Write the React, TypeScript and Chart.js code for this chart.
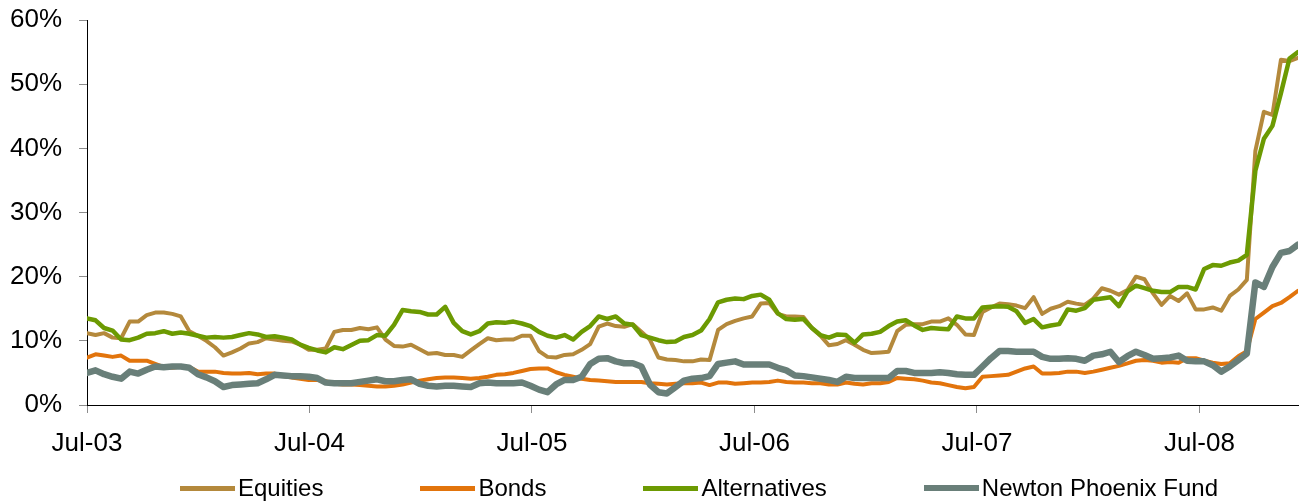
import React, { useEffect, useRef } from "react";
import { Chart, registerables } from "chart.js";

Chart.register(...registerables);

// Fortnightly observations starting Jul-03
const tickLabels = ["Jul-03", "Jul-04", "Jul-05", "Jul-06", "Jul-07", "Jul-08"];
const seriesNames = ["Equities", "Bonds", "Alternatives", "Newton Phoenix Fund"];

const equities = [
  11.2, 10.9, 11.2, 10.5, 10.4, 13.0, 13.0, 14.0, 14.4, 14.4, 14.2, 13.8, 11.5, 10.8, 10.0, 9.0, 7.7, 8.2, 8.8, 9.6, 9.8, 10.4, 10.2, 10.0,
  9.9, 9.4, 8.6, 8.6, 8.8, 11.4, 11.7, 11.7, 12.0, 11.8, 12.1, 10.2, 9.2, 9.1, 9.4, 8.7, 8.0, 8.1, 7.8, 7.8, 7.5, 8.5, 9.5,
  10.4, 10.1, 10.2, 10.2, 10.8, 10.8, 8.4, 7.5, 7.4, 7.8, 7.9, 8.6, 9.5, 12.2, 12.7, 12.3, 12.2, 12.6, 11.4, 10.2, 7.4, 7.1, 7.0, 6.8,
  6.8, 7.1, 7.0, 11.7, 12.6, 13.1, 13.5, 13.8, 15.8, 15.9, 14.2, 13.8, 13.8, 13.7, 12.0, 10.8, 9.3, 9.5, 10.1, 9.4, 8.6, 8.1, 8.2,
  8.3, 11.5, 12.5, 12.6, 12.6, 13.0, 13.0, 13.5, 12.5, 11.0, 10.9, 14.5, 15.2, 15.8, 15.7, 15.5, 15.1, 16.8, 14.2, 15.0, 15.4, 16.1, 15.8, 15.6,
  16.6, 18.2, 17.8, 17.2, 17.9, 20.0, 19.6, 17.4, 15.6, 17.0, 16.2, 17.4, 14.9, 14.9, 15.2, 14.7, 17.0, 18.0, 19.5, 39.6, 45.7, 45.2, 53.8, 53.6, 54.1,
];

const bonds = [
  7.4, 7.9, 7.7, 7.5, 7.7, 6.9, 6.9, 6.9, 6.4, 5.9, 5.8, 6.0, 5.9, 5.2, 5.2, 5.2, 5.0, 4.9, 4.9, 5.0, 4.8, 4.9, 4.9, 4.5,
  4.3, 4.1, 3.9, 3.9, 3.7, 3.3, 3.2, 3.2, 3.1, 3.0, 2.9, 2.9, 3.0, 3.2, 3.5, 3.8, 4.0, 4.2, 4.3, 4.3, 4.2, 4.1, 4.2,
  4.4, 4.7, 4.8, 5.0, 5.3, 5.6, 5.7, 5.7, 5.1, 4.7, 4.4, 4.1, 3.9, 3.8, 3.7, 3.6, 3.6, 3.6, 3.6, 3.4, 3.3, 3.2, 3.3, 3.4,
  3.4, 3.5, 3.1, 3.5, 3.5, 3.3, 3.4, 3.5, 3.5, 3.6, 3.8, 3.6, 3.5, 3.5, 3.4, 3.4, 3.2, 3.2, 3.5, 3.3, 3.2, 3.4, 3.4,
  3.6, 4.2, 4.1, 4.0, 3.8, 3.5, 3.4, 3.1, 2.8, 2.6, 2.8, 4.4, 4.5, 4.6, 4.7, 5.2, 5.7, 6.0, 4.9, 4.9, 5.0, 5.2, 5.2, 5.0,
  5.2, 5.5, 5.8, 6.1, 6.5, 6.9, 7.0, 6.9, 6.6, 6.7, 6.6, 7.3, 7.3, 6.9, 6.6, 6.4, 6.5, 7.6, 8.4, 13.4, 14.4, 15.4, 15.9, 16.8, 17.8,
];

const alternatives = [
  13.5, 13.2, 12.0, 11.6, 10.2, 10.1, 10.5, 11.1, 11.2, 11.5, 11.1, 11.3, 11.1, 10.8, 10.5, 10.6, 10.5, 10.6, 10.9, 11.2, 11.0, 10.6, 10.7, 10.5,
  10.2, 9.4, 8.9, 8.5, 8.2, 9.0, 8.7, 9.35, 10.0, 10.1, 10.9, 10.8, 12.5, 14.8, 14.6, 14.5, 14.1, 14.1, 15.3, 12.8, 11.5, 11.0, 11.5,
  12.7, 12.9, 12.8, 13.0, 12.7, 12.3, 11.4, 10.8, 10.5, 10.9, 10.2, 11.4, 12.3, 13.8, 13.4, 13.8, 12.7, 12.5, 10.9, 10.5, 10.1, 9.8, 9.9, 10.6,
  10.9, 11.6, 13.4, 16.0, 16.4, 16.6, 16.5, 17.0, 17.2, 16.4, 14.3, 13.4, 13.3, 13.4, 12.0, 10.9, 10.5, 11.0, 10.9, 9.7, 11.0, 11.1, 11.4,
  12.3, 13.0, 13.2, 12.4, 11.7, 12.0, 11.9, 11.8, 13.8, 13.5, 13.5, 15.2, 15.3, 15.4, 15.3, 14.6, 12.8, 13.4, 12.1, 12.4, 12.6, 14.9, 14.7, 15.1,
  16.4, 16.6, 16.8, 15.4, 17.7, 18.6, 18.2, 17.8, 17.6, 17.6, 18.4, 18.4, 18.0, 21.2, 21.8, 21.7, 22.2, 22.5, 23.4, 36.5, 41.5, 43.5, 48.6, 54.0, 55.0,
];

const newtonPhoenix = [
  5.0, 5.4, 4.8, 4.4, 4.1, 5.2, 4.9, 5.5, 6.0, 5.9, 6.0, 6.0, 5.8, 4.8, 4.3, 3.7, 2.8, 3.1, 3.2, 3.3, 3.4, 4.0, 4.7, 4.6,
  4.5, 4.5, 4.4, 4.2, 3.5, 3.4, 3.4, 3.4, 3.6, 3.8, 4.0, 3.7, 3.7, 3.9, 4.0, 3.3, 3.0, 2.9, 3.0, 3.0, 2.9, 2.8, 3.4,
  3.5, 3.4, 3.4, 3.4, 3.5, 3.0, 2.4, 2.0, 3.2, 3.9, 3.9, 4.4, 6.4, 7.2, 7.3, 6.8, 6.5, 6.5, 6.0, 3.2, 2.0, 1.8, 2.8, 3.8,
  4.1, 4.2, 4.5, 6.4, 6.6, 6.8, 6.3, 6.3, 6.3, 6.3, 5.8, 5.4, 4.6, 4.5, 4.3, 4.1, 3.9, 3.6, 4.4, 4.2, 4.2, 4.2, 4.2,
  4.2, 5.3, 5.3, 5.0, 5.0, 5.0, 5.1, 5.0, 4.8, 4.7, 4.7, 6.0, 7.3, 8.4, 8.4, 8.3, 8.3, 8.3, 7.5, 7.2, 7.2, 7.3, 7.2, 6.9,
  7.7, 7.9, 8.3, 6.7, 7.6, 8.3, 7.8, 7.2, 7.3, 7.4, 7.7, 6.9, 6.8, 6.8, 6.2, 5.2, 6.0, 7.0, 8.0, 19.1, 18.4, 21.5, 23.7, 24.0, 25.0,
];

const seriesValues = [equities, bonds, alternatives, newtonPhoenix];
const seriesColors = ["#B4893C", "#E2740C", "#6C9A02", "#697F79"];
const seriesWidths = [4, 4, 4.5, 6.5];
const seriesOrder = [3, 2, 1, 0];

const STEP_YEARS = 14 / 365.25; // two weeks, in years from Jul-03
const FONT = "'Liberation Sans', Arial, Helvetica, sans-serif";

export default function App() {
  const canvasRef = useRef<HTMLCanvasElement | null>(null);

  useEffect(() => {
    const canvas = canvasRef.current;
    if (!canvas) return;
    const n = equities.length;
    const chart = new Chart(canvas, {
      type: "line",
      data: {
        datasets: seriesValues.map((vals, k) => ({
          label: seriesNames[k],
          data: vals.map((v, i) => ({ x: i * STEP_YEARS, y: v })),
          borderColor: seriesColors[k],
          backgroundColor: seriesColors[k],
          borderWidth: seriesWidths[k],
          pointRadius: 0,
          pointHoverRadius: 0,
          tension: 0,
          borderJoinStyle: "round" as const,
          borderCapStyle: "round" as const,
          order: seriesOrder[k],
        })),
      },
      options: {
        responsive: false,
        animation: false,
        events: [],
        layout: { padding: { left: 0, top: 20, right: 5, bottom: 0 } },
        plugins: {
          legend: { display: false },
          tooltip: { enabled: false },
        },
        scales: {
          x: {
            type: "linear",
            min: 0,
            max: (n - 1) * STEP_YEARS,
            afterBuildTicks: (scale: any) => {
              scale.ticks = tickLabels.map((_, k) => ({ value: k }));
            },
            afterFit: (scale: any) => {
              scale.height = 96;
              scale.paddingLeft = 0;
              scale.paddingRight = 0;
            },
            ticks: {
              autoSkip: false,
              maxRotation: 0,
              padding: 15,
              color: "#000",
              font: { family: FONT, size: 26 },
              callback: (v: any) => tickLabels[Math.round(Number(v))] ?? "",
            },
            grid: { drawOnChartArea: false, drawTicks: true, tickLength: 8, color: "#8c8c8c" },
            border: { display: true, color: "#000", width: 1 },
          },
          y: {
            min: 0,
            max: 60,
            afterFit: (scale: any) => {
              scale.width = 87;
              scale.paddingTop = 0;
              scale.paddingBottom = 0;
            },
            ticks: {
              stepSize: 10,
              padding: 17,
              color: "#000",
              font: { family: FONT, size: 26 },
              callback: (v: any) => `${v}%`,
            },
            grid: { drawOnChartArea: false, drawTicks: true, tickLength: 8, color: "#8c8c8c" },
            border: { display: true, color: "#000", width: 1 },
          },
        },
      },
    });
    return () => chart.destroy();
  }, []);

  return (
    <div style={{ position: "absolute", left: 0, top: 0, width: 1303, height: 501, background: "#fff" }}>
      <canvas ref={canvasRef} width={1303} height={501} style={{ display: "block" }} />
      <div
        style={{
          position: "absolute",
          left: 180,
          top: 476,
          display: "flex",
          alignItems: "center",
          fontFamily: FONT,
          fontSize: 24,
          lineHeight: "24px",
          color: "#000",
          whiteSpace: "nowrap",
        }}
      >
        {seriesNames.map((name, k) => (
          <div key={name} style={{ display: "flex", alignItems: "center", marginRight: k < seriesNames.length - 1 ? 97 : 0 }}>
            <span
              style={{
                display: "inline-block",
                width: 55,
                height: k === 3 ? 6 : 5,
                background: seriesColors[k],
                marginRight: 3,
              }}
            />
            <span>{name}</span>
          </div>
        ))}
      </div>
    </div>
  );
}
